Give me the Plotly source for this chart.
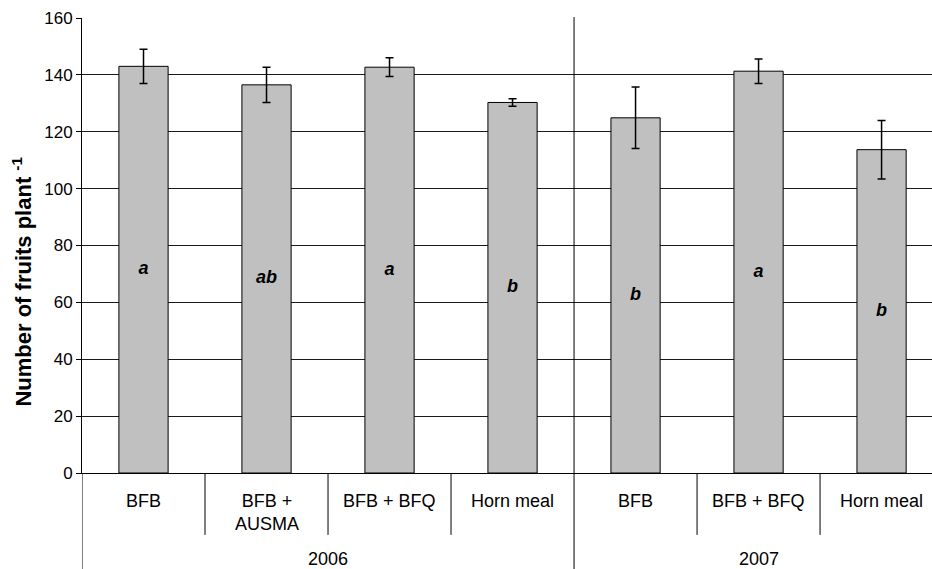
import plotly.graph_objects as go

# Treatments, grouped by season
treatments = ["BFB", "BFB +<br>AUSMA", "BFB + BFQ", "Horn meal", "BFB", "BFB + BFQ", "Horn meal"]
years = ["2006", "2006", "2006", "2006", "2007", "2007", "2007"]
fruits = [143.0, 136.5, 142.7, 130.3, 124.9, 141.3, 113.7]
errors = [6.0, 6.2, 3.3, 1.3, 10.8, 4.3, 10.3]
letters = ["a", "ab", "a", "b", "b", "a", "b"]
y_ticks = [0, 20, 40, 60, 80, 100, 120, 140, 160]

FONT = "Liberation Sans, Arial, sans-serif"
pos = list(range(len(fruits)))

fig = go.Figure()
fig.add_trace(go.Bar(
    x=pos, y=fruits, width=0.4,
    marker=dict(color="#C0C0C0", line=dict(color="#000000", width=1)),
    error_y=dict(type="data", array=errors, visible=True,
                 color="#000000", thickness=1.5, width=4),
    showlegend=False, hoverinfo="skip",
))
# Significance letters, placed half-way up each bar
fig.add_trace(go.Scatter(
    x=pos, y=[v / 2 for v in fruits], mode="text",
    text=[f"<b><i>{s}</i></b>" for s in letters],
    textfont=dict(family=FONT, size=18, color="#000000"),
    textposition="middle center", showlegend=False, hoverinfo="skip",
))

# Treatment labels (first level of the category axis)
for p, t in zip(pos, treatments):
    fig.add_annotation(x=p, y=-0.035, xref="x", yref="paper", text=t,
                       showarrow=False, yanchor="top", xanchor="center",
                       font=dict(family=FONT, size=18, color="#000000"))

# Year labels (second level), centred on their treatments
year_groups = {}
for p, yr in zip(pos, years):
    year_groups.setdefault(yr, []).append(p)
for yr, ps in year_groups.items():
    fig.add_annotation(x=(ps[0] + ps[-1]) / 2, y=-0.19, xref="x", yref="paper",
                       text=yr, showarrow=False, yanchor="middle", borderpad=0,
                       font=dict(family=FONT, size=18, color="#000000"))

# Y-axis title
fig.add_annotation(x=-0.071, y=0.42, xref="paper", yref="paper",
                   text="<b>Number of fruits plant <sup>-1</sup></b>",
                   textangle=-90, showarrow=False, xanchor="center", yanchor="middle",
                   font=dict(family=FONT, size=22, color="#000000"))

# Dividers between treatments and between years
line = dict(color="#000000", width=1)
for i in range(1, len(pos)):
    x = i - 0.5
    if years[i] != years[i - 1]:
        fig.add_shape(type="line", xref="x", yref="paper", x0=x, x1=x,
                      y0=-0.211, y1=1.002, line=line)
    else:
        fig.add_shape(type="line", xref="x", yref="paper", x0=x, x1=x,
                      y0=-0.136, y1=0, line=line)
fig.add_shape(type="line", xref="x", yref="paper", x0=-0.5, x1=-0.5,
              y0=-0.211, y1=0, line=line)
fig.add_shape(type="line", xref="x", yref="paper", x0=len(pos) - 0.5, x1=len(pos) - 0.5,
              y0=-0.211, y1=0, line=line)

fig.update_layout(
    width=932, height=569,
    margin=dict(l=82, r=0, t=18, b=96),
    plot_bgcolor="#FFFFFF", paper_bgcolor="#FFFFFF",
    font=dict(family=FONT, size=17, color="#000000"),
    bargap=0.6,
)
fig.update_xaxes(range=[-0.5, 6.41], showticklabels=False, ticks="",
                 showgrid=False, zeroline=False,
                 showline=True, linecolor="#000000", linewidth=1)
fig.update_yaxes(range=[0, 160], tickvals=y_ticks, ticks="outside", ticklen=5,
                 tickcolor="#000000", showline=True, linecolor="#000000", linewidth=1,
                 showgrid=True, gridcolor="#1a1a1a", gridwidth=1, zeroline=False,
                 tickfont=dict(family=FONT, size=17))

fig.write_html("out.html")
